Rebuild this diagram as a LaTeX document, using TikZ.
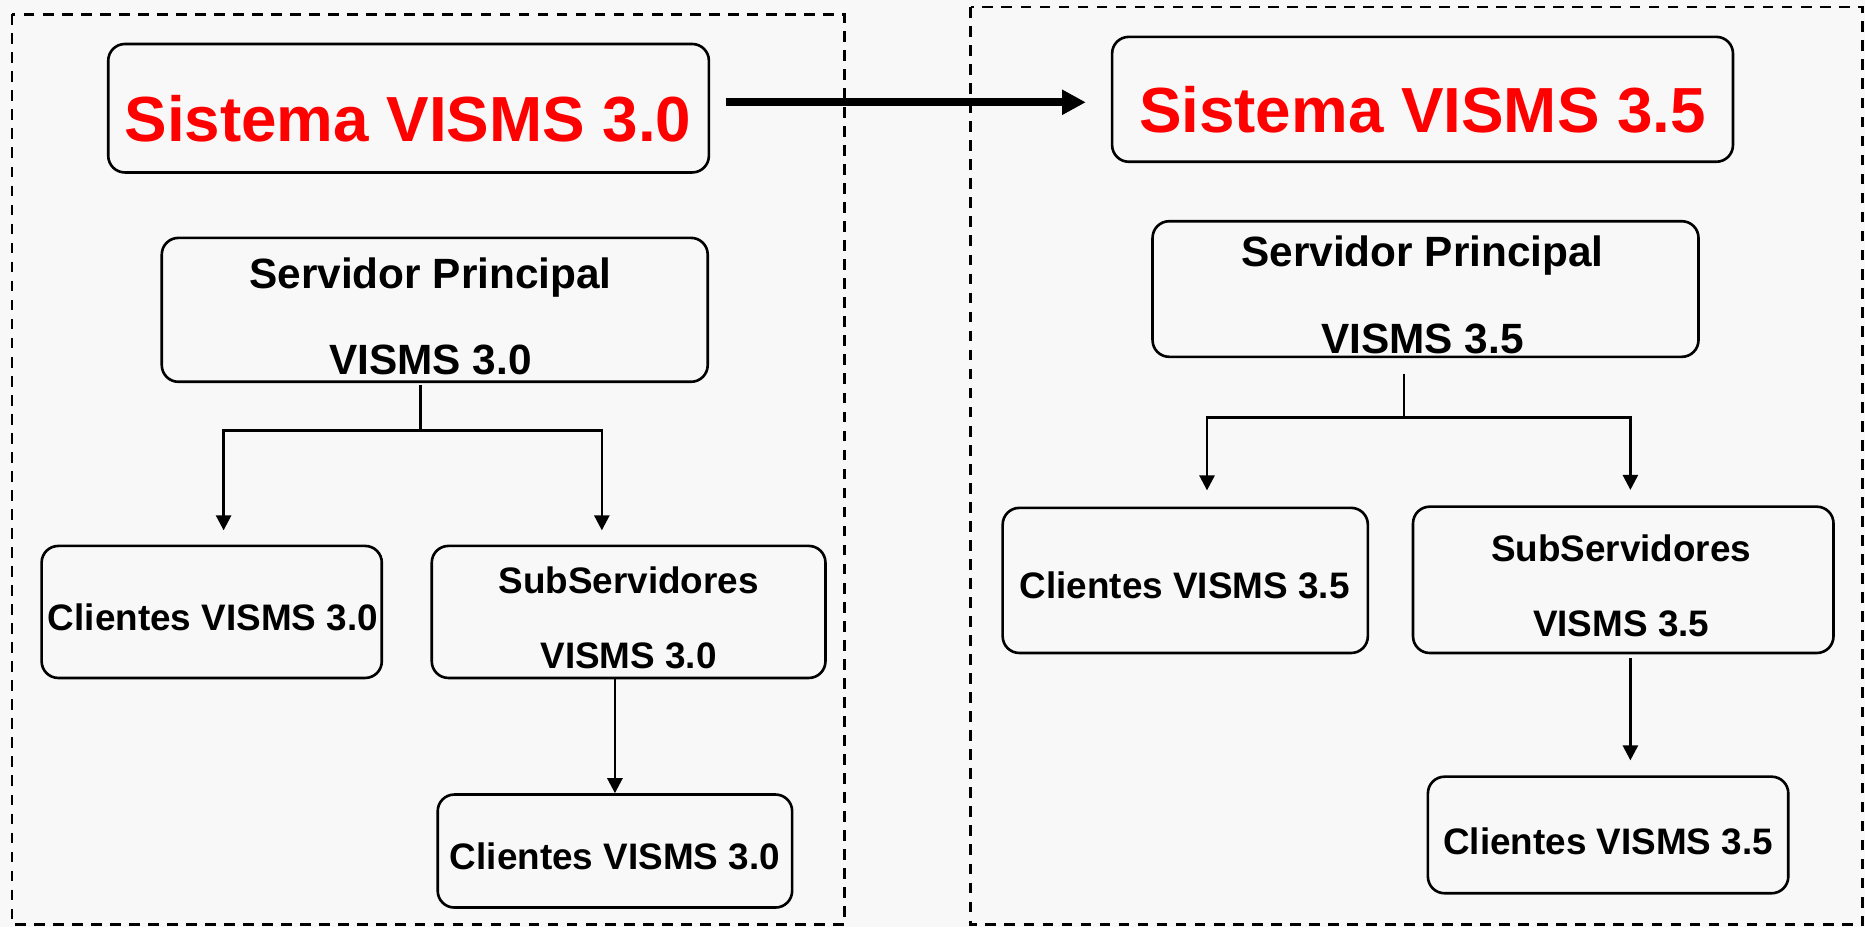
\documentclass[tikz,border=0pt]{standalone}
\usepackage{fontspec}
\setmainfont{Liberation Sans}
\usetikzlibrary{calc,positioning,fit,arrows.meta}
\definecolor{fondo}{RGB}{248,248,248}

\begin{document}
\begin{tikzpicture}[
    x=0.5pt, y=-0.5pt,
    caja/.style={
        draw=black,
        line width=1.1pt,
        rounded corners=7pt,
        inner sep=0pt,
    },
    marco/.style={
        draw=black,
        line width=1.1pt,
        dash pattern=on 4.5pt off 3.5pt,
    },
    titulo/.style={
        text=red,
        font=\fontsize{26.8}{30}\selectfont\bfseries,
    },
    servidor/.style={
        align=center,
        font=\fontsize{17.8}{36.4}\selectfont\bfseries,
    },
    subserv/.style={
        align=center,
        font=\fontsize{15.5}{31.8}\selectfont\bfseries,
    },
    cliente/.style={
        font=\fontsize{15.5}{18}\selectfont\bfseries,
    },
    linea/.style={
        draw=black,
        line width=1.1pt,
    },
    flecha/.style={
        linea,
        -{Triangle[length=6.3pt,width=6.3pt]},
    },
    flechagrande/.style={
        draw=black,
        line width=3.2pt,
        -{Triangle[length=10pt,width=10pt]},
    },
  ]
  \useasboundingbox (0,0) rectangle (1568,779.4);
  \fill[fondo] (0,0) rectangle (1568,779.4);
  \draw[marco] (10,12) rectangle (710,777.5);
  \draw[marco] (816,6) rectangle (1566,777.5);

  \node[caja, fit={(91,37) (596,145)}] (tit30) {};
  \node[titulo] (ttit30) at (343,100) {Sistema VISMS 3.0};
  \node[caja, fit={(935,31) (1457,136)}] (tit35) {};
  \node[titulo] (ttit35) at (1196,92) {Sistema VISMS 3.5};

  \node[caja, fit={(136,200) (595,321)}] (srv30) {};
  \node[servidor] (tsrv30) at (362,266) {Servidor Principal\\VISMS 3.0};
  \node[caja, fit={(969,186) (1428,300)}] (srv35) {};
  \node[servidor] (tsrv35) at (1196,248) {Servidor Principal\\VISMS 3.5};

  \node[caja, fit={(35,459) (321,570)}] (cli30a) {};
  \node[cliente] (tcli30a) at (179,519) {Clientes VISMS 3.0};
  \node[caja, fit={(363,459) (694,570)}] (sub30) {};
  \node[subserv] (tsub30) at (528.5,519.5) {SubServidores\\VISMS 3.0};
  \node[caja, fit={(368,668) (666,763)}] (cli30b) {};
  \node[cliente] (tcli30b) at (517,720) {Clientes VISMS 3.0};

  \node[caja, fit={(843,427) (1150,549)}] (cli35a) {};
  \node[cliente] (tcli35a) at (996,492.5) {Clientes VISMS 3.5};
  \node[caja, fit={(1188,426) (1541.5,549)}] (sub35) {};
  \node[subserv] (tsub35) at (1363,492.5) {SubServidores\\VISMS 3.5};
  \node[caja, fit={(1200.5,653) (1503.5,751)}] (cli35b) {};
  \node[cliente] (tcli35b) at (1352,707) {Clientes VISMS 3.5};

  \draw[flechagrande] ($(tit30.east)+(13,-5)$) -- ($(tit30.east -| tit35.west)+(-21,-5)$);

  \coordinate (j30) at ($(srv30.south)+(-12,40)$);
  \draw[linea] ($(srv30.south)+(-12,2)$) -- (j30);
  \draw[flecha] (j30) -| ($(cli30a.north)+(10,-12)$);
  \draw[flecha] (j30) -| ($(sub30.north)+(-22.5,-12)$);
  \draw[flecha] (sub30.south -| cli30b.north) -- (cli30b.north);

  \coordinate (j35) at ($(srv35.south)+(-18,50)$);
  \draw[linea] ($(srv35.south)+(-18,13)$) -- (j35);
  \draw[flecha] (j35) -| ($(cli35a.north)+(18.3,-13.6)$);
  \draw[flecha] (j35) -| ($(sub35.north)+(6,-13)$);
  \draw[flecha] ($(sub35.south)+(6,3)$) -- ($(cli35b.north -| sub35.south)+(6,-12.6)$);
\end{tikzpicture}
\end{document}
